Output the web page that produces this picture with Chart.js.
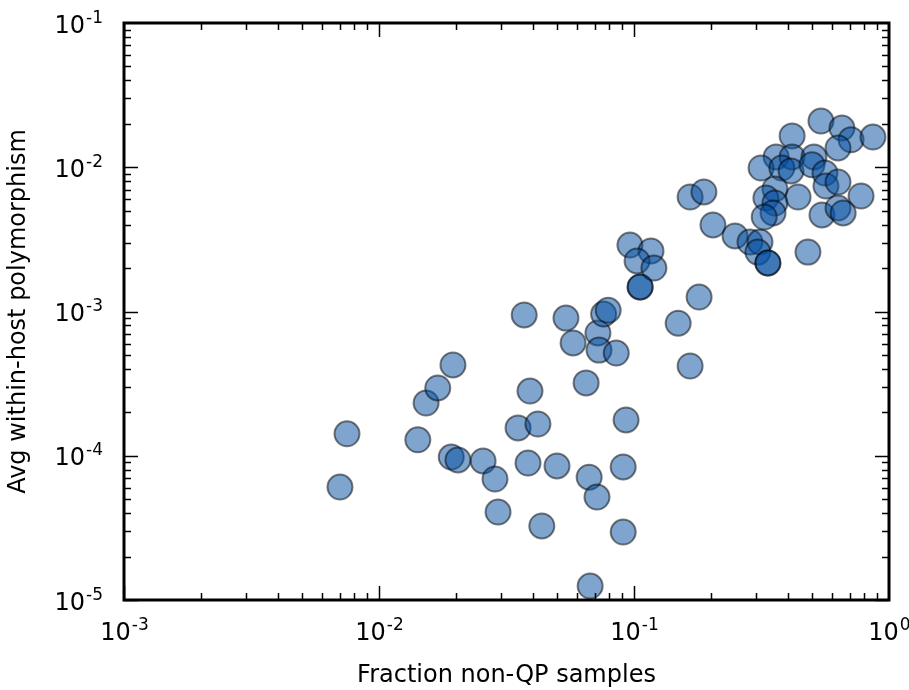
<!DOCTYPE html>
<html>
<head>
<meta charset="utf-8">
<script src="https://cdn.jsdelivr.net/npm/chart.js@4/dist/chart.umd.min.js"></script>
<style>
  html, body { margin: 0; padding: 0; background: #fff; }
  #wrap { width: 909px; height: 690px; }
</style>
</head>
<body>
<div id="wrap"><canvas id="c" width="909" height="690"></canvas></div>
<script>
// Fraction non-QP samples (x) for each host
const fractionNonQP = [
  0.00703, 0.00749, 0.0142, 0.0153, 0.0170, 0.0195, 0.0192, 0.0204, 0.0256, 0.0285,
  0.0293, 0.0351, 0.0371, 0.0391, 0.0384, 0.0420, 0.0435, 0.0499, 0.0541, 0.0577,
  0.0649, 0.0667, 0.0673, 0.0716, 0.0722, 0.0729, 0.0760, 0.0792, 0.0852, 0.0907,
  0.0907, 0.0931, 0.1057, 0.1057, 0.149, 0.166, 0.180, 0.0964, 0.1166, 0.1028,
  0.1197, 0.166, 0.188, 0.204, 0.249, 0.285, 0.312, 0.306, 0.335, 0.335,
  0.541, 0.654, 0.710, 0.865, 0.631, 0.417, 0.361, 0.417, 0.315, 0.380,
  0.413, 0.508, 0.499, 0.561, 0.566, 0.631, 0.777, 0.440, 0.357, 0.329,
  0.357, 0.351, 0.324, 0.546, 0.631, 0.661, 0.481
];
// Avg within-host polymorphism (y) for each host
const avgPolymorphism = [
  6.07e-5, 1.42e-4, 1.29e-4, 2.32e-4, 2.95e-4, 4.26e-4, 9.8e-5, 9.35e-5, 9.2e-5, 6.9e-5,
  4.07e-5, 1.56e-4, 9.46e-4, 2.81e-4, 8.9e-5, 1.66e-4, 3.26e-5, 8.5e-5, 9.0e-4, 6.05e-4,
  3.2e-4, 7.1e-5, 1.25e-5, 5.17e-5, 7.1e-4, 5.4e-4, 9.6e-4, 1.02e-3, 5.15e-4, 8.36e-5,
  2.96e-5, 1.77e-4, 1.48e-3, 1.48e-3, 8.3e-4, 4.19e-4, 1.26e-3, 2.89e-3, 2.63e-3, 2.24e-3,
  2.0e-3, 6.22e-3, 6.74e-3, 3.98e-3, 3.34e-3, 3.03e-3, 3.03e-3, 2.58e-3, 2.17e-3, 2.17e-3,
  2.09e-2, 1.87e-2, 1.55e-2, 1.62e-2, 1.36e-2, 1.65e-2, 1.18e-2, 1.18e-2, 9.88e-3, 9.88e-3,
  9.42e-3, 1.18e-2, 1.04e-2, 9.12e-3, 7.41e-3, 7.9e-3, 6.32e-3, 6.22e-3, 7.07e-3, 6.12e-3,
  5.65e-3, 4.82e-3, 4.52e-3, 4.67e-3, 5.22e-3, 4.82e-3, 2.58e-3
];
// Tick label exponents (labels are 10^e)
const xTickExponents = [-3, -2, -1, 0];
const yTickExponents = [-5, -4, -3, -2, -1];
const xAxisTitle = "Fraction non-QP samples";
const yAxisTitle = "Avg within-host polymorphism";

const points = fractionNonQP.map((x, i) => ({ x: x, y: avgPolymorphism[i] }));

const FONT = '"DejaVu Sans", "Liberation Sans", sans-serif';

const axesPlugin = {
  id: 'mplAxes',
  afterDraw(chart) {
    const ctx = chart.ctx;
    const xs = chart.scales.x, ys = chart.scales.y;
    const a = chart.chartArea;
    ctx.save();
    ctx.strokeStyle = '#000';
    ctx.fillStyle = '#000';
    // tick marks (major + minor), inward, all four sides
    ctx.lineWidth = 1.5;
    ctx.beginPath();
    for (let e = xTickExponents[0]; e < xTickExponents[xTickExponents.length - 1]; e++) {
      for (let m = 1; m <= 9; m++) {
        const v = m * Math.pow(10, e);
        const px = Math.round(xs.getPixelForValue(v)) + 0.5;
        const len = m === 1 ? 14 : 7;
        ctx.moveTo(px, a.bottom); ctx.lineTo(px, a.bottom - len);
        ctx.moveTo(px, a.top); ctx.lineTo(px, a.top + len);
      }
    }
    for (let e = yTickExponents[0]; e < yTickExponents[yTickExponents.length - 1]; e++) {
      for (let m = 1; m <= 9; m++) {
        const v = m * Math.pow(10, e);
        const py = Math.round(ys.getPixelForValue(v)) + 0.5;
        const len = m === 1 ? 14 : 7;
        ctx.moveTo(a.left, py); ctx.lineTo(a.left + len, py);
        ctx.moveTo(a.right, py); ctx.lineTo(a.right - len, py);
      }
    }
    ctx.stroke();
    // spines
    ctx.lineWidth = 3;
    ctx.strokeRect(a.left, a.top, a.right - a.left, a.bottom - a.top);

    // tick labels 10^e
    const mainFont = '24px ' + FONT;
    const supFont = '17px ' + FONT;
    ctx.textBaseline = 'alphabetic';
    ctx.textAlign = 'left';
    function measure(base, sup) {
      ctx.font = mainFont; const w1 = ctx.measureText(base).width;
      ctx.font = supFont; const w2 = ctx.measureText(sup).width;
      return [w1, w2];
    }
    xTickExponents.forEach(e => {
      const v = Math.pow(10, e);
      const px = xs.getPixelForValue(v);
      const sup = String(e);
      const [w1, w2] = measure('10', sup);
      const x0 = px - (w1 + w2) / 2;
      ctx.font = mainFont; ctx.fillText('10', x0, a.bottom + 40);
      ctx.font = supFont; ctx.fillText(sup, x0 + w1 + 1, a.bottom + 30);
    });
    yTickExponents.forEach(e => {
      const v = Math.pow(10, e);
      const py = ys.getPixelForValue(v);
      const sup = String(e);
      const [w1, w2] = measure('10', sup);
      const x0 = 103 - (w1 + w2 + 1);
      ctx.font = mainFont; ctx.fillText('10', x0, py + 9.5);
      ctx.font = supFont; ctx.fillText(sup, x0 + w1 + 1, py - 0.5);
    });

    // axis titles
    ctx.font = mainFont;
    ctx.textAlign = 'center';
    ctx.fillText(xAxisTitle, (a.left + a.right) / 2, 682);
    ctx.save();
    ctx.translate(25, (a.top + a.bottom) / 2);
    ctx.rotate(-Math.PI / 2);
    ctx.fillText(yAxisTitle, 0, 0);
    ctx.restore();
    ctx.restore();
  }
};

new Chart(document.getElementById('c'), {
  type: 'scatter',
  data: {
    datasets: [{
      data: points,
      backgroundColor: 'rgba(0, 75, 160, 0.5)',
      borderColor: 'rgba(0, 0, 0, 0.5)',
      borderWidth: 2,
      pointRadius: 12.5,
      pointHoverRadius: 12.5
    }]
  },
  options: {
    responsive: false,
    animation: false,
    devicePixelRatio: 1,
    layout: { padding: { left: 124, right: 20, top: 23, bottom: 90 } },
    plugins: { legend: { display: false }, tooltip: { enabled: false } },
    events: [],
    scales: {
      x: { type: 'logarithmic', min: 0.001, max: 1, display: false },
      y: { type: 'logarithmic', min: 1e-5, max: 0.1, display: false }
    }
  },
  plugins: [axesPlugin]
});
</script>
</body>
</html>
